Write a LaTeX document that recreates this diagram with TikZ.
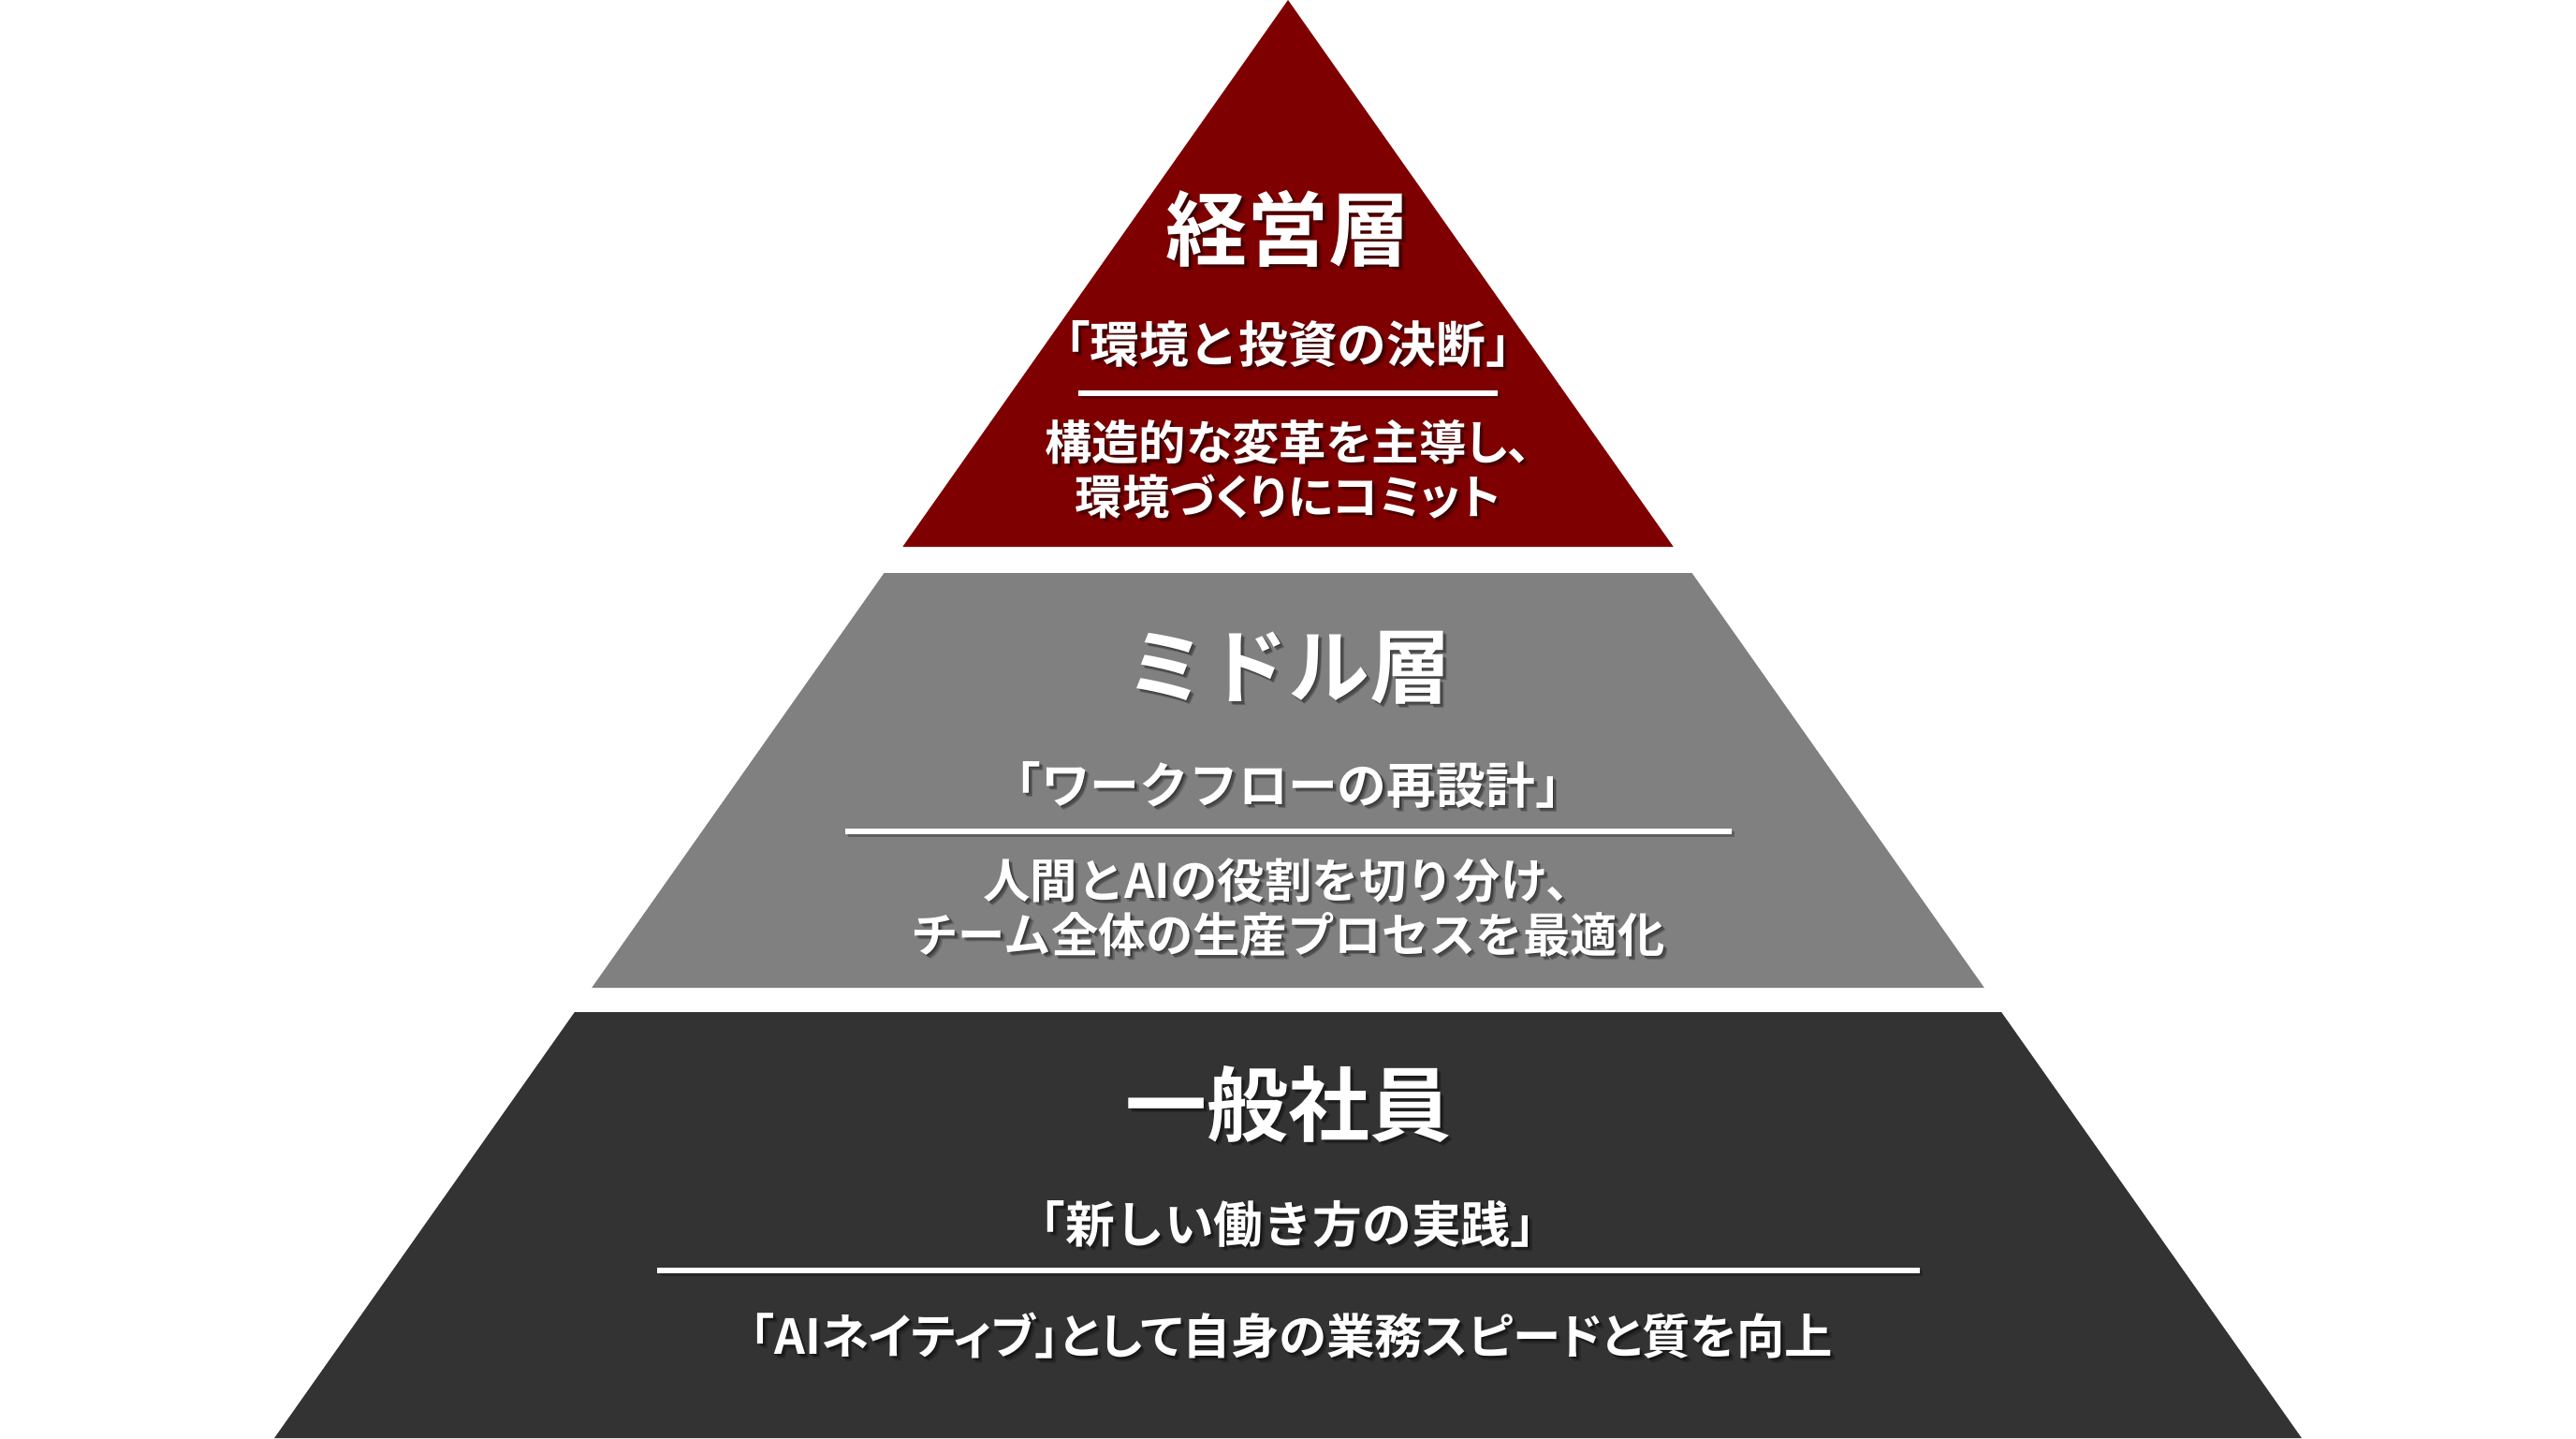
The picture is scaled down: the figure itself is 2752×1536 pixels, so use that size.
\documentclass[tikz,border=0pt]{standalone}
\usepackage{fontspec}
\setmainfont{Noto Sans CJK JP}[BoldFont={Noto Sans CJK JP Bold}]
\newfontfamily\paltfont{Noto Sans CJK JP}[BoldFont={Noto Sans CJK JP Bold}, RawFeature=+palt]
\usetikzlibrary{calc}
\definecolor{topred}{HTML}{7F0000}
\definecolor{midgray}{HTML}{808080}
\definecolor{lowdark}{HTML}{333333}
\tikzset{
  titletext/.style={inner sep=0pt, text=white, font=\bfseries\fontsize{21.75pt}{24pt}\selectfont},
  subtext/.style={inner sep=0pt, text=white, font=\bfseries\fontsize{13.2pt}{15pt}\selectfont},
  bodytext/.style={inner sep=0pt, text=white, align=center, font=\bfseries\fontsize{12.6pt}{14.5pt}\selectfont},
  paltbody/.style={bodytext, font=\paltfont\bfseries\fontsize{12.6pt}{14.5pt}\selectfont},
  paltwide/.style={bodytext, font=\paltfont\bfseries\fontsize{12.85pt}{14.5pt}\selectfont},
  sepline/.style={white, line width=1.5pt},
  sepshadow/.style={black, opacity=0.25, line width=1.5pt},
}
\newcommand\shadowtext[4]{%
  \foreach \dd/\oo in {1.5/0.25,3/0.25,4.5/0.2}{%
    \node[#3, text=black, opacity=\oo] at ($(#2)+(\dd,\dd)$) {#4};}
  \node[#3] (#1) at (#2) {#4};
}
\begin{document}
\begin{tikzpicture}[x=0.25pt, y=-0.25pt]
\useasboundingbox (0,0) rectangle (2752,1536);
\fill[white] (0,0) rectangle (2752,1536);
% layers
\fill[topred] (1376,0) -- (1787.7,584) -- (964.3,584) -- cycle;
\fill[midgray] (944.5,612) -- (1807.5,612) -- (2119.8,1055) -- (632.2,1055) -- cycle;
\fill[lowdark] (613.9,1081) -- (2138.1,1081) -- (2458.9,1536) -- (293.1,1536) -- cycle;
% top layer
\coordinate (t1) at (1376,244);
\coordinate (t2) at (1376,367);
\coordinate (t3) at (1376,501);
\shadowtext{topTitle}{t1}{titletext}{経営層}
\shadowtext{topSub}{t2}{subtext}{「環境と投資の決断」}
\coordinate (tlA) at (1152,420);
\coordinate (tlB) at (1600,420);
\draw[sepshadow] ($(tlA)+(3,3)$) -- ($(tlB)+(3,3)$);
\draw[sepline] (tlA) -- (tlB);
\shadowtext{topBody}{t3}{paltbody}{構造的な変革を主導し、\\環境づくりにコミット}
% middle layer
\coordinate (m1) at (1376,713);
\coordinate (m2) at (1376,838);
\coordinate (m3) at (1376,969);
\shadowtext{midTitle}{m1}{titletext}{ミドル層}
\shadowtext{midSub}{m2}{subtext}{「ワークフローの再設計」}
\coordinate (mlA) at (903,888);
\coordinate (mlB) at (1850,888);
\draw[sepshadow] ($(mlA)+(3,3)$) -- ($(mlB)+(3,3)$);
\draw[sepline] (mlA) -- (mlB);
\shadowtext{midBody}{m3}{bodytext}{人間とAIの役割を切り分け、\\チーム全体の生産プロセスを最適化}
% bottom layer
\coordinate (b1) at (1376,1179);
\coordinate (b2) at (1376,1307);
\coordinate (b3) at (1380,1427);
\shadowtext{lowTitle}{b1}{titletext}{一般社員}
\shadowtext{lowSub}{b2}{subtext}{「新しい働き方の実践」}
\coordinate (blA) at (702,1357);
\coordinate (blB) at (2051,1357);
\draw[sepshadow] ($(blA)+(3,3)$) -- ($(blB)+(3,3)$);
\draw[sepline] (blA) -- (blB);
\shadowtext{lowBody}{b3}{paltwide}{「AIネイティブ」として自身の業務スピードと質を向上}
\end{tikzpicture}
\end{document}
